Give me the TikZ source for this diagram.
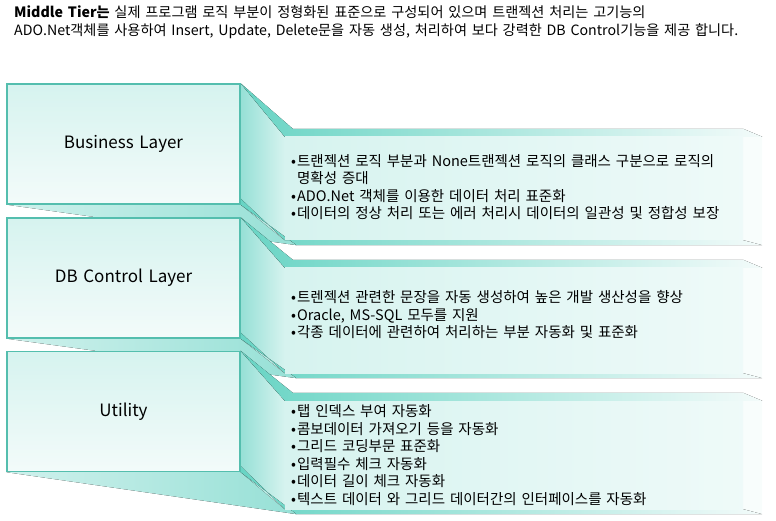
\documentclass[tikz,border=0pt]{standalone}
\usepackage{fontspec}
\setmainfont{Noto Sans CJK KR}[WordSpace=1.5]
\usepackage{xcolor}
\usetikzlibrary{positioning, calc, backgrounds}

\definecolor{tealline}{RGB}{84,190,174}
\definecolor{tealdark}{RGB}{104,212,196}
\definecolor{tealmid}{RGB}{150,224,214}
\definecolor{teallight}{RGB}{214,243,239}
\definecolor{tealpale}{RGB}{243,251,250}

\begin{document}
\begin{tikzpicture}[x=1pt, y=-1pt,
        layerbox/.style={rectangle, draw=tealline, line width=1.3pt, top color=teallight, bottom color=tealpale, minimum width=233pt, minimum height=120pt, inner sep=0pt, font=\fontsize{17}{20}\selectfont},
        panel/.style={rectangle, left color=teallight, right color=teallight!40!white, minimum width=458pt, inner sep=0pt},
        items/.style={anchor=west, align=left, inner sep=0pt, font=\fontsize{14.5}{17.5}\selectfont},
        heading/.style={anchor=north west, align=left, inner sep=0pt, font=\fontsize{14.2}{18}\selectfont},
        band/.style={left color=tealdark, right color=tealpale},
        sideface/.style={left color=tealmid, right color=teallight},
        under/.style={left color=tealmid!45, right color=tealmid},
        rim/.style={fill=tealpale!60}
    ]
        \useasboundingbox (0,0) rectangle (776,521);

        \node[heading] (head) at (14,5.5) {\textbf{Middle Tier는} 실제 프로그램 로직 부분이 정형화된 표준으로 구성되어 있으며 트랜젝션 처리는 고기능의\\ADO.Net객체를 사용하여 Insert, Update, Delete문을 자동 생성, 처리하여 보다 강력한 DB Control기능을 제공 합니다.};

        \node[layerbox] (biz) at (123.5,144) {Business Layer};
        \node[layerbox] (dbc) at (123.5,278) {DB Control Layer};
        \node[layerbox] (util) at (123.5,411.5) {Utility};

        \node[panel, minimum height=103pt] (bizpanel) at (514,188.5) {};
        \node[panel, minimum height=105pt] (dbcpanel) at (514,320.5) {};
        \node[panel, minimum height=108pt] (utilpanel) at (514,455) {};

        \node[items] (bizitems) at (291,187) {•\kern1pt트랜젝션 로직 부분과 None트랜젝션 로직의 클래스 구분으로 로직의\\\hphantom{•\kern1pt}명확성 증대\\•\kern1pt ADO.Net 객체를 이용한 데이터 처리 표준화\\•\kern1pt데이터의 정상 처리 또는 에러 처리시 데이터의 일관성 및 정합성 보장};
        \node[items] (dbcitems) at (291,315) {•\kern1pt트렌젝션 관련한 문장을 자동 생성하여 높은 개발 생산성을 향상\\•\kern1pt Oracle, MS-SQL 모두를 지원\\•\kern1pt각종 데이터에 관련하여 처리하는 부분 자동화 및 표준화};
        \node[items] (utilitems) at (291,455) {•\kern1pt탭 인덱스 부여 자동화\\•\kern1pt콤보데이터 가져오기 등을 자동화\\•\kern1pt그리드 코딩부문 표준화\\•\kern1pt입력필수 체크 자동화\\•\kern1pt데이터 길이 체크 자동화\\•\kern1pt텍스트 데이터 와 그리드 데이터간의 인터페이스를 자동화};

        \begin{scope}[on background layer]
            \foreach \b/\p in {biz/bizpanel, dbc/dbcpanel, util/utilpanel} {
                \fill[under] (\b.south west) -- ($(\p.south west)+(12,5)$) -- (\b.south east) -- cycle;
                \fill[sideface] (\b.north east) -- (\p.north west) -- (\p.south west) -- (\b.south east) -- cycle;
                \fill[rim] (\p.north east) -- ($(\p.north east)+(19,0)$) -- ($(\p.south east)+(19,5)$) -- (\p.south east) -- cycle;
                \fill[band] (\b.north east) -- ($(\p.north west)+(8,-8)$) -- ($(\p.north east)+(0,-8)$) -- ($(\p.north east)+(19,0)$) -- (\p.north west) -- cycle;
                \fill[band] ($(\b.south east)+(0,-6)$) -- (\p.south west) -- (\p.south east) -- ($(\p.south east)+(19,5)$) -- ($(\p.south west)+(12,5)$) -- (\b.south east) -- cycle;
            }
        \end{scope}
    \end{tikzpicture}
\end{document}
